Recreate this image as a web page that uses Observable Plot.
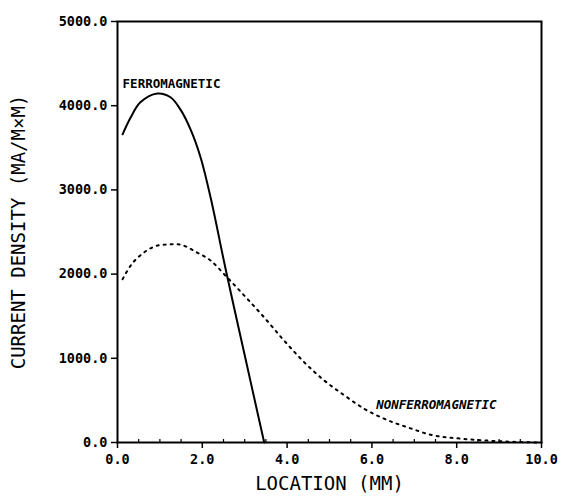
<!DOCTYPE html>
<html>
<head>
<meta charset="utf-8">
<script src="https://cdn.jsdelivr.net/npm/d3@7"></script>
<script src="https://cdn.jsdelivr.net/npm/@observablehq/plot@0.6"></script>
<style>
  html, body { margin: 0; padding: 0; background: #fff; }
  #chart svg { display: block; }
  #chart g[aria-label="y-axis tick label"] text,
  #chart g[aria-label="x-axis tick label"] text { font-weight: bold; }
</style>
</head>
<body>
<div id="chart"></div>
<script>
// Ferromagnetic (solid) curve: location (mm), current density (MA/M×M)
const ferroX = [0.12, 0.31, 0.54, 0.94, 1.25, 1.49, 1.73, 1.96, 2.20, 2.55, 2.99, 3.22, 3.46];
const ferroY = [3660, 3860, 4040, 4145, 4100, 3950, 3710, 3385, 2900, 2060, 1060, 540, 0];

// Nonferromagnetic (dotted) curve
const nonX = [0.12, 0.31, 0.62, 1.02, 1.41, 1.88, 2.20, 2.55, 2.99, 3.46, 3.93, 4.40, 4.88, 5.35, 5.82, 6.30, 6.93, 7.40, 8.0, 8.5, 9.0, 9.5, 10.0];
const nonY = [1940, 2100, 2255, 2345, 2355, 2255, 2160, 1980, 1745, 1485, 1210, 955, 735, 560, 400, 280, 165, 90, 50, 30, 15, 5, 0];

// Axis ticks
const xTicks = [0, 2, 4, 6, 8, 10];
const xMinorTicks = [0.5, 1, 1.5, 2.5, 3, 3.5, 4.5, 5, 5.5, 6.5, 7, 7.5, 8.5, 9, 9.5];
const yTicks = [0, 1000, 2000, 3000, 4000, 5000];

// Curve labels
const labelText = ["FERROMAGNETIC", "NONFERROMAGNETIC"];
const labelX = [0.12, 6.1];
const labelY = [4260, 440];
const labelStyle = ["normal", "italic"];

const xTitle = "LOCATION (MM)";
const yTitle = "CURRENT DENSITY (MA/M×M)";

const ferro = ferroX.map((x, i) => ({x, y: ferroY[i]}));
const nonferro = nonX.map((x, i) => ({x, y: nonY[i]}));
const labels = labelText.map((t, i) => ({t, x: labelX[i], y: labelY[i], s: labelStyle[i]}));

const mono = "DejaVu Sans Mono, monospace";

const chart = Plot.plot({
  width: 561,
  height: 496,
  marginLeft: 117,
  marginRight: 20,
  marginTop: 21,
  marginBottom: 54,
  style: {fontFamily: mono, fontSize: "13.5px", color: "#000", background: "#fff"},
  x: {domain: [0, 10]},
  y: {domain: [0, 5000]},
  marks: [
    Plot.frame({stroke: "#000", strokeWidth: 2}),
    Plot.axisY({ticks: yTicks, tickSize: 6, tickPadding: 4, tickFormat: d3.format(".1f"), label: null, strokeWidth: 1.5}),
    Plot.axisX({ticks: xTicks, tickSize: 6, tickPadding: 6, tickFormat: d3.format(".1f"), label: null, strokeWidth: 1.5}),
    Plot.axisX({ticks: xMinorTicks, tickSize: 3, dy: -3, tickFormat: () => "", label: null, strokeWidth: 1.2}),
    Plot.line(ferro, {x: "x", y: "y", stroke: "#000", strokeWidth: 2, curve: "catmull-rom"}),
    Plot.line(nonferro, {x: "x", y: "y", stroke: "#000", strokeWidth: 2, strokeDasharray: "2,5", curve: "monotone-x"}),
    Plot.text(labels.filter(d => d.s === "normal"), {x: "x", y: "y", text: "t", textAnchor: "start", fontSize: 12.5, fontWeight: "bold"}),
    Plot.text(labels.filter(d => d.s === "italic"), {x: "x", y: "y", text: "t", textAnchor: "start", fontSize: 12.5, fontWeight: "bold", fontStyle: "italic"}),
    Plot.text([xTitle], {frameAnchor: "bottom", dy: 41, lineAnchor: "middle", fontSize: 19, text: d => d}),
    Plot.text([yTitle], {frameAnchor: "left", dx: -99, rotate: -90, textAnchor: "middle", lineAnchor: "middle", fontSize: 19, text: d => d})
  ]
});

document.getElementById("chart").appendChild(chart);
</script>
</body>
</html>
